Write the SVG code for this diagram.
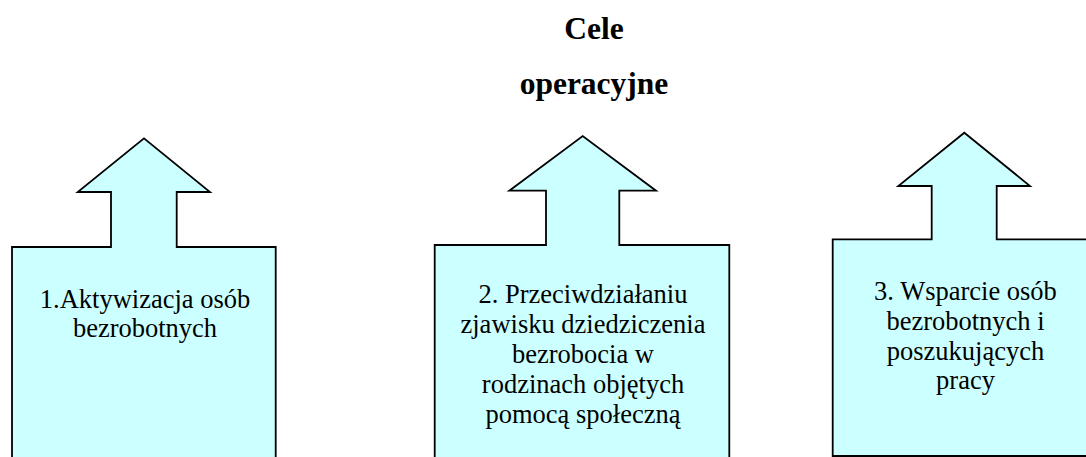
<svg xmlns="http://www.w3.org/2000/svg" width="1086" height="457" viewBox="0 0 1086 457">
<style>
.arrow{fill:#CCFFFF;stroke:#000;stroke-width:1.8;stroke-linejoin:miter}
.t{font-size:26.5px;fill:#000;text-anchor:middle}
.title{font-size:31.5px;font-weight:bold;fill:#000;text-anchor:middle}
</style>
<rect width="1086" height="457" fill="#fff"/>
<g id="title">
<text class="title" font-family="Liberation Serif" x="594" y="38.5">Cele</text>
<text class="title" font-family="Liberation Serif" x="594" y="93.5">operacyjne</text>
</g>
<g id="node1">
<polygon class="arrow" points="12,247 111,247 111,192 77.7,192 144,138.3 210,192 176.7,192 176.7,247 275.7,247 275.7,470 12,470"/>
<text class="t" font-family="Liberation Serif" x="145" y="307.5">1.Aktywizacja osób</text>
<text class="t" font-family="Liberation Serif" x="145" y="337">bezrobotnych</text>
</g>
<g id="node2">
<polygon class="arrow" points="434.7,245 546,245 546,190.7 509.3,190.7 582.7,136 656,190.7 619.3,190.7 619.3,245 729.3,245 729.3,470 434.7,470"/>
<text class="t" font-family="Liberation Serif" x="583" y="302.7">2. Przeciwdziałaniu</text>
<text class="t" font-family="Liberation Serif" x="583" y="333">zjawisku dziedziczenia</text>
<text class="t" font-family="Liberation Serif" x="583" y="363">bezrobocia w</text>
<text class="t" font-family="Liberation Serif" x="583" y="392.7">rodzinach objętych</text>
<text class="t" font-family="Liberation Serif" x="583" y="422.7">pomocą społeczną</text>
</g>
<g id="node3">
<polygon class="arrow" points="832.7,239.3 931.7,239.3 931.7,186 898.3,186 964.3,132.7 1030,186 996.7,186 996.7,239.3 1100,239.3 1100,456 832.7,456"/>
<text class="t" font-family="Liberation Serif" x="965.5" y="300">3. Wsparcie osób</text>
<text class="t" font-family="Liberation Serif" x="965.5" y="330">bezrobotnych i</text>
<text class="t" font-family="Liberation Serif" x="965.5" y="359.5">poszukujących</text>
<text class="t" font-family="Liberation Serif" x="965.5" y="389.3">pracy</text>
</g>
<g id="connectors"></g>
</svg>
